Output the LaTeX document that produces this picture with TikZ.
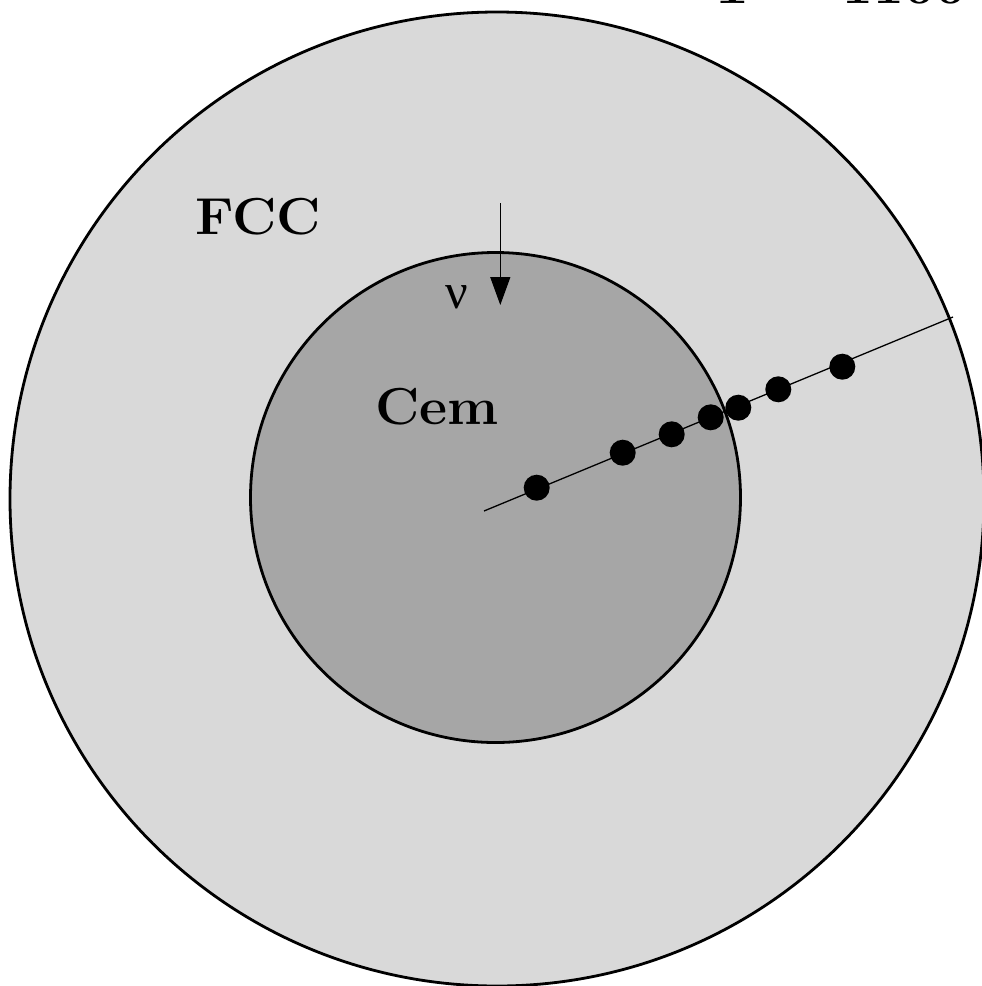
\documentclass[tikz,border=0pt]{standalone}
\usepackage{fontspec}
\newfontfamily\grk{Liberation Serif}
\usetikzlibrary{arrows.meta}
\definecolor{outerfill}{gray}{0.851}
\definecolor{innerfill}{gray}{0.651}
\tikzset{
  ring/.style={draw=black, line width=2.8pt},
  dot/.style={circle, fill=black, inner sep=0pt, minimum size=26pt},
  lbl/.style={font=\fontsize{52}{60}\selectfont\bfseries, inner sep=0pt, xscale=1.05},
}
\begin{document}
\begin{tikzpicture}[x=1pt,y=-1pt]
\useasboundingbox (0,0) rectangle (982,986);
\begin{scope}
\clip (0,0) rectangle (982,986);
\node[lbl, anchor=base east] (temp) at (966,3) {T = 1100};
\draw[ring, fill=outerfill] (497,499) circle (487);
\draw[ring, fill=innerfill] (495.5,497.5) circle (245);
\coordinate (ls) at (484,511);
\coordinate (le) at (953,317);
\draw[line width=1.3pt] (ls) -- (le);
\node[dot] (d1) at (536.7,487.7) {};
\node[dot] (d2) at (622.7,452.7) {};
\node[dot] (d3) at (671.7,434.3) {};
\node[dot] (d4) at (710.7,417.3) {};
\node[dot] (d5) at (738.3,407.7) {};
\node[dot] (d6) at (778.3,389.3) {};
\node[dot] (d7) at (842.3,366.7) {};
\coordinate (at) at (500.3,203);
\coordinate (ah) at (500.3,305);
\draw[line width=1.3pt, -{Triangle[length=28pt,width=20pt]}] (at) -- (ah);
\node[inner sep=0pt, font=\fontsize{50}{56}\selectfont\grk] (nu) at (457,297) {ν};
\node[lbl] (fcc) at (258,217) {FCC};
\node[lbl] (cem) at (437,407) {Cem};
\end{scope}
\end{tikzpicture}
\end{document}
